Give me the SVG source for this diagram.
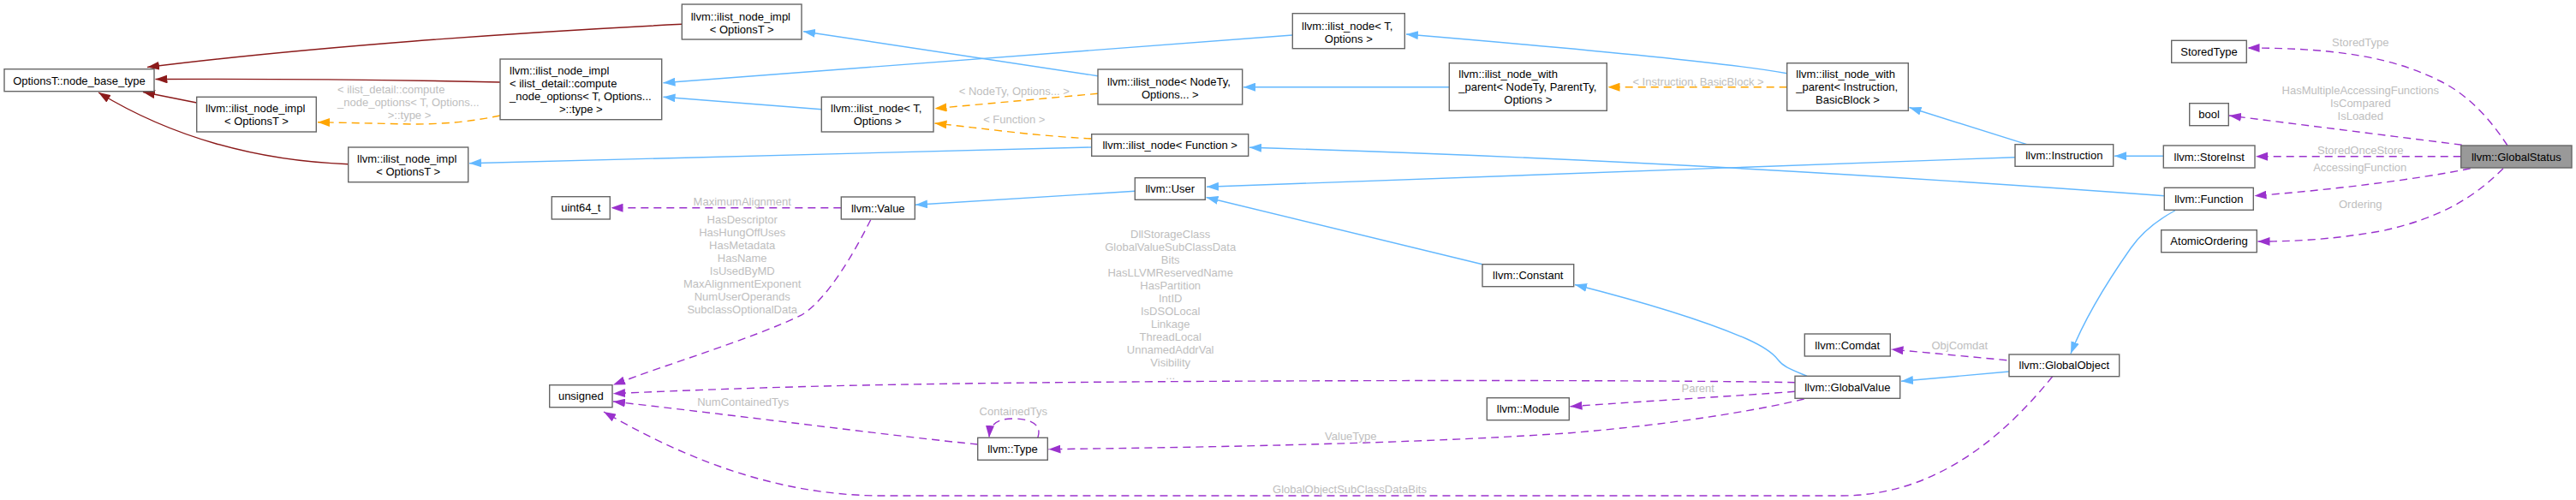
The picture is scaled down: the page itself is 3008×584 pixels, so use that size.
<svg xmlns="http://www.w3.org/2000/svg" width="3008" height="584" viewBox="0 0 3008 584">
<style>
  .node rect { fill: #ffffff; stroke: #666666; stroke-width: 1.4; }
  .node text { font-family: "Liberation Sans", Arial, Helvetica, sans-serif; font-size: 13px; fill: #000000; }
  .node .m { text-anchor: middle; }
  .node .s { text-anchor: start; }
  #n_globalstatus rect { fill: #999999; }
  .e { fill: none; stroke-width: 1.4; }
  .blue { stroke: #63B8FF; marker-end: url(#ah_blue); }
  .red { stroke: #8B1A1A; marker-end: url(#ah_red); }
  .orange { stroke: #FFA500; stroke-dasharray: 9 6; marker-end: url(#ah_orange); }
  .purple { stroke: #9A32CD; stroke-dasharray: 9 6; marker-end: url(#ah_purple); }
  .lbl { font-family: "Liberation Sans", Arial, Helvetica, sans-serif; font-size: 13px; fill: #BEBEBE; text-anchor: middle; }
  .lbl.s { text-anchor: start; }
</style>
<defs>
  <marker id="ah_blue" viewBox="0 0 14 10" refX="14" refY="5" markerWidth="14" markerHeight="10" markerUnits="userSpaceOnUse" orient="auto"><path d="M0,0 L14,5 L0,10 z" fill="#63B8FF"/></marker>
  <marker id="ah_red" viewBox="0 0 14 10" refX="14" refY="5" markerWidth="14" markerHeight="10" markerUnits="userSpaceOnUse" orient="auto"><path d="M0,0 L14,5 L0,10 z" fill="#8B1A1A"/></marker>
  <marker id="ah_orange" viewBox="0 0 14 10" refX="14" refY="5" markerWidth="14" markerHeight="10" markerUnits="userSpaceOnUse" orient="auto"><path d="M0,0 L14,5 L0,10 z" fill="#FFA500"/></marker>
  <marker id="ah_purple" viewBox="0 0 14 10" refX="14" refY="5" markerWidth="14" markerHeight="10" markerUnits="userSpaceOnUse" orient="auto"><path d="M0,0 L14,5 L0,10 z" fill="#9A32CD"/></marker>
</defs>
<rect x="0" y="0" width="3008" height="584" fill="#ffffff"/>

<g id="connectors">
  <!-- private inheritance (dark red) -->
  <path class="e red" d="M796.3,28.3 C600,38 360,55 172,78.5"/>
  <path class="e red" d="M584,96 C450,93 300,92 181.5,92.5"/>
  <path class="e red" d="M229.7,120 L167,107.5"/>
  <path class="e red" d="M406.7,191.7 C300,188 200,160 115,108"/>
  <!-- public inheritance (blue) -->
  <path class="e blue" d="M1282,88.7 L938,36.7"/>
  <path class="e blue" d="M1509.3,41 L774.5,96.7"/>
  <path class="e blue" d="M959.3,127.7 L774.5,113.3"/>
  <path class="e blue" d="M1274.7,172 L548,190.7"/>
  <path class="e blue" d="M2086.7,85.7 Q2000,70 1642,40"/>
  <path class="e blue" d="M1692.3,101.7 L1452,101.7"/>
  <path class="e blue" d="M2366.7,168.7 L2229.5,125.5"/>
  <path class="e blue" d="M2527.3,228.7 C2300,212 1900,185 1459,172.3"/>
  <path class="e blue" d="M2353,183.7 L1409,218.3"/>
  <path class="e blue" d="M2526.3,182.3 L2469,182.3"/>
  <path class="e blue" d="M1731,308.7 L1408.5,230.5"/>
  <path class="e blue" d="M1325.3,223.3 L1069,239.3"/>
  <path class="e blue" d="M2110,439.3 C2090,431 2082,428 2076,420 C2070,412 2060,405 2040,396 C1980,370 1900,348 1839,332.5"/>
  <path class="e blue" d="M2346,434 L2220,445.3"/>
  <path class="e blue" d="M2539.7,246 C2510,262 2495,280 2488,290 C2460,330 2435,370 2418,413"/>
  <!-- template instantiation (orange dashed) -->
  <path class="e orange" d="M584,135 C550,142 520,145 480,145 L371,142.7"/>
  <path class="e orange" d="M1282,109.3 L1091.5,126.7"/>
  <path class="e orange" d="M1274.7,162 C1200,158 1150,150 1091.5,144"/>
  <path class="e orange" d="M2086.7,101.7 L1877.5,101.7"/>
  <!-- usage (purple dashed) -->
  <path class="e purple" d="M982.3,242.7 L713.5,242.7"/>
  <path class="e purple" d="M1016.7,256.7 C995,300 965,350 936,368 C880,395 780,425 716,449.5"/>
  <path class="e purple" d="M2096,446.7 C1900,443 1300,444 1020,449.7 C900,452 800,456 716,459.7"/>
  <path class="e purple" d="M1141.7,519 C1050,510 900,490 716,469"/>
  <path class="e purple" d="M2396.7,439.7 C2340,510 2260,579 2150,579 L1030,579 C900,579 790,530 705,481"/>
  <path class="e purple" d="M1211.7,511.3 C1216,500 1210,489 1183,489 C1162,489 1156,497 1155,511"/>
  <path class="e purple" d="M2106.7,466 C2050,480 1950,496 1833,505.7 C1700,515 1500,521.5 1224.5,524.7"/>
  <path class="e purple" d="M2096,457.3 C2020,463 1930,468 1833.5,474.7"/>
  <path class="e purple" d="M2343.3,420.7 L2208.5,408"/>
  <path class="e purple" d="M2928,170 C2905,135 2880,110 2850,95 C2800,70 2740,56 2624.5,56"/>
  <path class="e purple" d="M2874.7,169.3 L2603,135"/>
  <path class="e purple" d="M2873.7,182.7 L2634,182.7"/>
  <path class="e purple" d="M2884.7,196.7 C2820,210 2720,222 2632.5,228.7"/>
  <path class="e purple" d="M2923,196.7 C2890,230 2850,255 2780,270 C2720,280 2680,282 2636.5,282"/>

  <!-- edge labels -->
  <text class="lbl s" x="394" y="108.5">&lt; ilist_detail::compute</text>
  <text class="lbl s" x="394" y="123.5">_node_options&lt; T, Options...</text>
  <text class="lbl" x="478" y="138.5">&gt;::type &gt;</text>
  <text class="lbl" x="1184.3" y="111.2">&lt; NodeTy, Options... &gt;</text>
  <text class="lbl" x="1184.3" y="143.8">&lt; Function &gt;</text>
  <text class="lbl" x="1983" y="99.5">&lt; Instruction, BasicBlock &gt;</text>
  <text class="lbl" x="866.7" y="240.2">MaximumAlignment</text>
  <text class="lbl" x="866.7" y="261.2">HasDescriptor<tspan x="866.7" dy="15">HasHungOffUses</tspan><tspan x="866.7" dy="15">HasMetadata</tspan><tspan x="866.7" dy="15">HasName</tspan><tspan x="866.7" dy="15">IsUsedByMD</tspan><tspan x="866.7" dy="15">MaxAlignmentExponent</tspan><tspan x="866.7" dy="15">NumUserOperands</tspan><tspan x="866.7" dy="15">SubclassOptionalData</tspan></text>
  <text class="lbl" x="1366.7" y="277.8">DllStorageClass<tspan x="1366.7" dy="15">GlobalValueSubClassData</tspan><tspan x="1366.7" dy="15">Bits</tspan><tspan x="1366.7" dy="15">HasLLVMReservedName</tspan><tspan x="1366.7" dy="15">HasPartition</tspan><tspan x="1366.7" dy="15">IntID</tspan><tspan x="1366.7" dy="15">IsDSOLocal</tspan><tspan x="1366.7" dy="15">Linkage</tspan><tspan x="1366.7" dy="15">ThreadLocal</tspan><tspan x="1366.7" dy="15">UnnamedAddrVal</tspan><tspan x="1366.7" dy="15">Visibility</tspan><tspan x="1366.7" dy="15">...</tspan></text>
  <text class="lbl" x="867.7" y="474.2">NumContainedTys</text>
  <text class="lbl" x="1576" y="575.8">GlobalObjectSubClassDataBits</text>
  <text class="lbl" x="1183.3" y="485.2">ContainedTys</text>
  <text class="lbl" x="1577.3" y="514.2">ValueType</text>
  <text class="lbl" x="1982.7" y="457.8">Parent</text>
  <text class="lbl" x="2288.3" y="407.8">ObjComdat</text>
  <text class="lbl" x="2756.3" y="53.8">StoredType</text>
  <text class="lbl" x="2756.3" y="110.2">HasMultipleAccessingFunctions<tspan x="2756.3" dy="15">IsCompared</tspan><tspan x="2756.3" dy="15">IsLoaded</tspan></text>
  <text class="lbl" x="2756.3" y="180.2">StoredOnceStore</text>
  <text class="lbl" x="2755.7" y="200.2">AccessingFunction</text>
  <text class="lbl" x="2756.3" y="243.2">Ordering</text>
</g>

<g id="n_optbase" class="node"><rect x="5" y="80.7" width="175" height="26"/><text class="m" x="92.5" y="98.5">OptionsT::node_base_type</text></g>
<g id="n_impl_a" class="node"><rect x="229.7" y="113.3" width="139.6" height="40.7"/><text class="s" x="240" y="131.2">llvm::ilist_node_impl</text><text class="m" x="299.5" y="146.2">&lt; OptionsT &gt;</text></g>
<g id="n_impl_b" class="node"><rect x="406.7" y="172" width="140" height="40.7"/><text class="s" x="417" y="190.2">llvm::ilist_node_impl</text><text class="m" x="476.7" y="205.2">&lt; OptionsT &gt;</text></g>
<g id="n_impl_c" class="node"><rect x="796.3" y="5" width="139.7" height="41"/><text class="s" x="806.7" y="23.5">llvm::ilist_node_impl</text><text class="m" x="866.2" y="38.5">&lt; OptionsT &gt;</text></g>
<g id="n_impl_d" class="node"><rect x="584" y="69" width="188.7" height="70.7"/><text class="s" x="595" y="86.8">llvm::ilist_node_impl</text><text class="s" x="595" y="101.8">&lt; ilist_detail::compute</text><text class="s" x="595" y="116.8">_node_options&lt; T, Options...</text><text class="m" x="678.3" y="132.2">&gt;::type &gt;</text></g>
<g id="n_ilist_node_e" class="node"><rect x="959.3" y="113.3" width="130.7" height="40.7"/><text class="s" x="970" y="131.2">llvm::ilist_node&lt; T,</text><text class="m" x="1024.7" y="146.2">Options &gt;</text></g>
<g id="n_ilist_node_nodety" class="node"><rect x="1282" y="81" width="168.7" height="41"/><text class="s" x="1293" y="99.5">llvm::ilist_node&lt; NodeTy,</text><text class="m" x="1366.3" y="114.5">Options... &gt;</text></g>
<g id="n_ilist_node_function" class="node"><rect x="1274.7" y="156.7" width="183" height="25.6"/><text class="m" x="1366.2" y="174.2">llvm::ilist_node&lt; Function &gt;</text></g>
<g id="n_user" class="node"><rect x="1325.3" y="207.7" width="82" height="25.6"/><text class="m" x="1366.3" y="225">llvm::User</text></g>
<g id="n_value" class="node"><rect x="982.3" y="230" width="86" height="26"/><text class="m" x="1025.3" y="247.5">llvm::Value</text></g>
<g id="n_uint64" class="node"><rect x="644.3" y="229.7" width="68" height="26.3"/><text class="m" x="678.3" y="247.3">uint64_t</text></g>
<g id="n_unsigned" class="node"><rect x="641.7" y="449.7" width="73.3" height="26"/><text class="m" x="678.3" y="467.2">unsigned</text></g>
<g id="n_type" class="node"><rect x="1141.7" y="511.3" width="81.6" height="26"/><text class="m" x="1182.5" y="528.8">llvm::Type</text></g>
<g id="n_ilist_node_i" class="node"><rect x="1509.3" y="15.7" width="131" height="41"/><text class="s" x="1520" y="34.5">llvm::ilist_node&lt; T,</text><text class="m" x="1574.8" y="49.5">Options &gt;</text></g>
<g id="n_with_parent_j" class="node"><rect x="1692.3" y="73.7" width="184" height="55.6"/><text class="s" x="1703.3" y="91.2">llvm::ilist_node_with</text><text class="s" x="1703.3" y="106.2">_parent&lt; NodeTy, ParentTy,</text><text class="m" x="1784.3" y="121.2">Options &gt;</text></g>
<g id="n_with_parent_k" class="node"><rect x="2086.7" y="73.7" width="141.6" height="55.6"/><text class="s" x="2097.3" y="91.2">llvm::ilist_node_with</text><text class="s" x="2097.3" y="106.2">_parent&lt; Instruction,</text><text class="m" x="2157.5" y="121.2">BasicBlock &gt;</text></g>
<g id="n_instruction" class="node"><rect x="2353" y="168.7" width="114.7" height="25.6"/><text class="m" x="2410.3" y="186">llvm::Instruction</text></g>
<g id="n_constant" class="node"><rect x="1731" y="308.7" width="106.7" height="26"/><text class="m" x="1784.3" y="326.2">llvm::Constant</text></g>
<g id="n_module" class="node"><rect x="1736.3" y="464.7" width="96" height="26"/><text class="m" x="1784.3" y="482.2">llvm::Module</text></g>
<g id="n_comdat" class="node"><rect x="2107.3" y="390" width="100" height="26"/><text class="m" x="2157.3" y="407.5">llvm::Comdat</text></g>
<g id="n_globalvalue" class="node"><rect x="2096" y="439.3" width="122.7" height="26"/><text class="m" x="2157.3" y="456.8">llvm::GlobalValue</text></g>
<g id="n_globalobject" class="node"><rect x="2346" y="414" width="128.7" height="25.7"/><text class="m" x="2410.3" y="431.3">llvm::GlobalObject</text></g>
<g id="n_storedtype" class="node"><rect x="2535.7" y="47.3" width="87.6" height="26"/><text class="m" x="2579.5" y="64.8">StoredType</text></g>
<g id="n_bool" class="node"><rect x="2556.7" y="120.7" width="45.6" height="26"/><text class="m" x="2579.5" y="138.2">bool</text></g>
<g id="n_storeinst" class="node"><rect x="2526.3" y="170" width="106.7" height="26"/><text class="m" x="2579.7" y="187.5">llvm::StoreInst</text></g>
<g id="n_function" class="node"><rect x="2527.3" y="219.3" width="104" height="26"/><text class="m" x="2579.3" y="236.8">llvm::Function</text></g>
<g id="n_atomicordering" class="node"><rect x="2523.7" y="268.7" width="111.6" height="26"/><text class="m" x="2579.5" y="286.2">AtomicOrdering</text></g>
<g id="n_globalstatus" class="node"><rect x="2873.7" y="170" width="129.3" height="26"/><text class="m" x="2938.3" y="187.5">llvm::GlobalStatus</text></g>
</svg>
